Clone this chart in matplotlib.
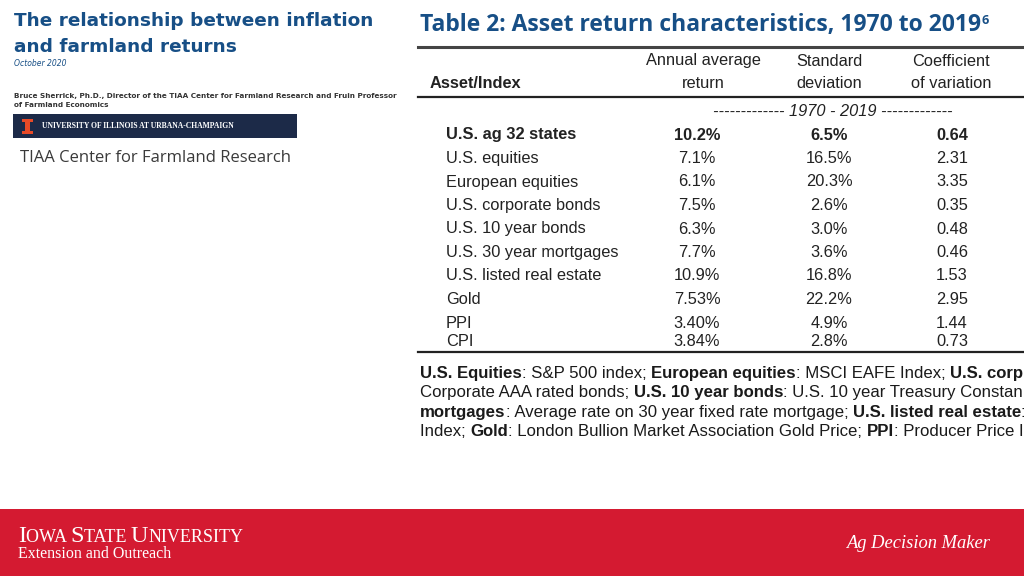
import matplotlib
matplotlib.use('Agg')
import matplotlib.pyplot as plt
from matplotlib.patches import Rectangle

# DATA
assets = ["U.S. ag 32 states", "U.S. equities", "European equities",
          "U.S. corporate bonds", "U.S. 10 year bonds", "U.S. 30 year mortgages",
          "U.S. listed real estate", "Gold", "PPI", "CPI"]
avg_return = ["10.2%", "7.1%", "6.1%", "7.5%", "6.3%", "7.7%", "10.9%", "7.53%", "3.40%", "3.84%"]
std_dev = ["6.5%", "16.5%", "20.3%", "2.6%", "3.0%", "3.6%", "16.8%", "22.2%", "4.9%", "2.8%"]
coef_var = ["0.64", "2.31", "3.35", "0.35", "0.48", "0.46", "1.53", "2.95", "1.44", "0.73"]
col_heads = [("Annual average", "return"), ("Standard", "deviation"), ("Coefficient", "of variation")]

# footnote pieces as far as the slide shows them: (text, bold)
notes = [
    [("U.S. Equities", True), (": S&P 500 index; ", False), ("European equities", True),
     (": MSCI EAFE Index; ", False), ("U.S. corp", True)],
    [("Corporate AAA rated bonds; ", False), ("U.S. 10 year bonds", True),
     (": U.S. 10 year Treasury Constan", False)],
    [("mortgages", True), (": Average rate on 30 year fixed rate mortgage; ", False),
     ("U.S. listed real estate", True), (":", False)],
    [("Index; ", False), ("Gold", True), (": London Bullion Market Association Gold Price; ", False),
     ("PPI", True), (": Producer Price I", False)],
]

BLUE = "#174f86"
RED = "#d41a31"
NAVY = "#1c2a48"

fig = plt.figure(figsize=(10.24, 5.76), dpi=100)
ax = fig.add_axes([0, 0, 1, 1])
ax.set_xlim(0, 1024)
ax.set_ylim(576, 0)
ax.axis('off')
fig.canvas.draw()
renderer = fig.canvas.get_renderer()


def runs(x, y, pieces, **kw):
    # draw text pieces one after another on the same baseline
    for txt, props in pieces:
        dy = props.pop('dy', 0)
        t = ax.text(x, y - dy, txt, va='baseline', ha='left', **kw, **props)
        x += t.get_window_extent(renderer=renderer).width
    return x


# left header block
ax.text(14, 26, "The relationship between inflation", fontsize=13.3, fontweight='bold',
        color=BLUE, va='baseline', family='DejaVu Sans')
ax.text(14, 52, "and farmland returns", fontsize=13.3, fontweight='bold',
        color=BLUE, va='baseline', family='DejaVu Sans')
ax.text(14, 66, "October 2020", fontsize=5.5, style='italic', color=BLUE, va='baseline')
ax.text(14, 98, "Bruce Sherrick, Ph.D., Director of the TIAA Center for Farmland Research and Fruin Professor",
        fontsize=5.25, fontweight='bold', color="#333333", va='baseline')
ax.text(14, 107, "of Farmland Economics", fontsize=5.25, fontweight='bold', color="#333333", va='baseline')
ax.add_patch(Rectangle((13, 114), 284, 24, color=NAVY, lw=0))
# block "I" logo
ORANGE = "#e84a27"
ax.add_patch(Rectangle((22, 119), 11, 3, color=ORANGE, lw=0))
ax.add_patch(Rectangle((25, 121), 5, 11, color=ORANGE, lw=0))
ax.add_patch(Rectangle((22, 131), 11, 3, color=ORANGE, lw=0))
ax.text(42, 126.5, "UNIVERSITY OF ILLINOIS AT URBANA-CHAMPAIGN", fontsize=5.5, fontweight='bold',
        family='Liberation Serif', color='white', va='center')
ax.text(20, 158, "TIAA Center for Farmland Research", fontsize=12, family='Open Sans',
        color="#3a3a3a", va='center')

# table title
runs(420, 31, [("Table 2: Asset return characteristics, 1970 to 2019", dict(fontsize=16.5, fontweight='bold')),
               ("6", dict(fontsize=9, fontweight='bold', dy=7))], color=BLUE, family='Open Sans')

# rules
ax.plot([418, 1024], [47, 47], color="#444444", lw=2.2)
ax.plot([418, 1024], [97, 97], color="#222222", lw=1.6)
ax.plot([418, 1024], [352, 352], color="#222222", lw=1.6)

tf = dict(family='Liberation Sans', fontsize=11.8, color="#222222")
col_x = [703, 829, 951]
for cx, (h1, h2) in zip(col_x, col_heads):
    ax.text(cx, 61, h1, ha='center', va='center', **tf)
    ax.text(cx, 84, h2, ha='center', va='center', **tf)
ax.text(430, 84, "Asset/Index", ha='left', va='center', fontweight='bold', **tf)
ax.text(833, 111, "------------- 1970 - 2019 -------------", ha='center', va='center',
        style='italic', **tf)

row_y = [135]
gaps = [23.5] * 8 + [19]
for g in gaps:
    row_y.append(row_y[-1] + g)
val_x = [697, 829, 952]
for i, name in enumerate(assets):
    w = 'bold' if i == 0 else 'normal'
    ax.text(446, row_y[i], name, ha='left', va='center', fontweight=w, **tf)
    for cx, col in zip(val_x, [avg_return, std_dev, coef_var]):
        ax.text(cx, row_y[i], col[i], ha='center', va='center', fontweight=w, **tf)

# footnotes
for k, line in enumerate(notes):
    y = 378 + k * 19.3
    runs(420, y, [(t, dict(fontweight='bold' if b else 'normal')) for t, b in line],
         family='Liberation Sans', fontsize=12.1, color="#1a1a1a")

# bottom banner
ax.add_patch(Rectangle((0, 509), 1024, 67, color=RED, lw=0))
runs(18, 542, [("I", dict(fontsize=17.5)), ("OWA ", dict(fontsize=13)),
               ("S", dict(fontsize=17.5)), ("TATE ", dict(fontsize=13)),
               ("U", dict(fontsize=17.5)), ("NIVERSITY", dict(fontsize=13))],
     family='Liberation Serif', color='white')
ax.text(18, 554, "Extension and Outreach", fontsize=11.5, family='Liberation Serif',
        color='white', va='center')
ax.text(990, 544, "Ag Decision Maker", fontsize=13.3, family='Liberation Serif', style='italic',
        color='white', ha='right', va='center')

fig.savefig("out.png", dpi=100)
